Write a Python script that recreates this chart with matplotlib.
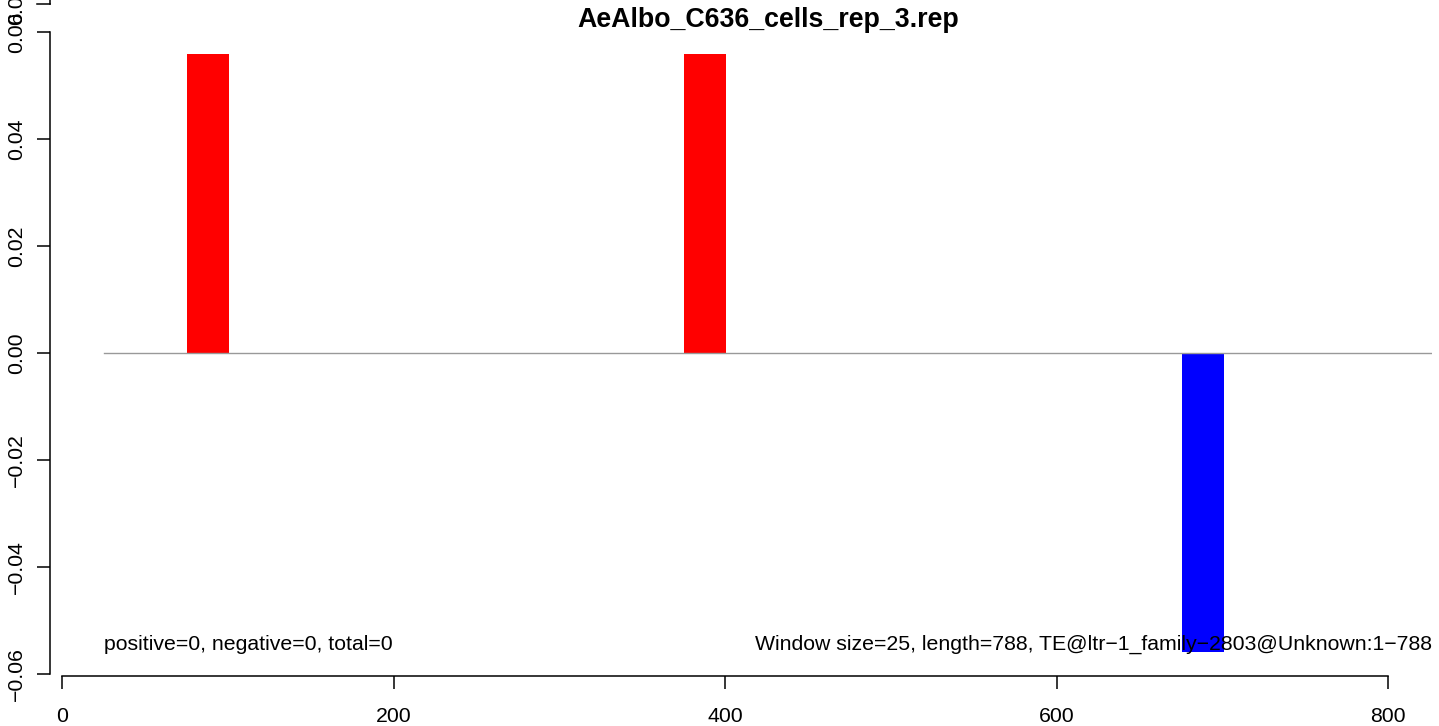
import matplotlib
matplotlib.use("Agg")
import matplotlib.pyplot as plt

# Data
bar_starts = [75.5, 375.5, 676]
bar_width = 25.3
bar_values = [0.0558, 0.0558, -0.0558]
bar_colors = ["#FF0000", "#FF0000", "#0000FF"]
x_ticks = [0, 200, 400, 600, 800]
y_ticks = [-0.06, -0.04, -0.02, 0.00, 0.02, 0.04, 0.06]
y_tick_labels = ["\u22120.06", "\u22120.04", "\u22120.02", "0.00", "0.02", "0.04", "0.06"]
title = "AeAlbo_C636_cells_rep_3.rep"
left_note = "positive=0, negative=0, total=0"
right_note = "Window size=25, length=788, TE@ltr\u22121_family\u22122803@Unknown:1\u2212788"
window_start = 25.3

plt.rcParams['font.family'] = ['Liberation Sans', 'DejaVu Sans']

W, H = 1439, 726
fig = plt.figure(figsize=(W / 100, H / 100), dpi=100)
L, R, T, B = 50, 1432, 0, 676
ax = fig.add_axes([L / W, 1 - B / H, (R - L) / W, (B - T) / H])

px_per_x = 1326 / 800.0
px_per_y = 107 / 0.02
x0_px, y0_px = 62, 353
ax.set_xlim((L - x0_px) / px_per_x, (R - x0_px) / px_per_x)
ax.set_ylim((y0_px - B) / px_per_y, (y0_px - T) / px_per_y)

ax.bar(bar_starts, bar_values, width=bar_width, align='edge', color=bar_colors, linewidth=0)
ax.plot([window_start, ax.get_xlim()[1]], [0, 0], color="#999999", lw=1.0, zorder=1)

for s in ["top", "right"]:
    ax.spines[s].set_visible(False)
ax.spines["left"].set_bounds(-0.06, 0.06)
ax.spines["bottom"].set_bounds(0, 800)
for s in ["left", "bottom"]:
    ax.spines[s].set_linewidth(1.1)

FS = 15.3
ax.set_xticks(x_ticks)
ax.set_xticklabels([str(v) for v in x_ticks])
ax.set_yticks(y_ticks)
ax.set_yticklabels(y_tick_labels)
ax.tick_params(axis='both', length=9.4, width=1.1, labelsize=FS)
ax.tick_params(axis='x', pad=13)
ax.tick_params(axis='y', pad=8)
for lab in ax.get_yticklabels():
    lab.set_rotation(90)
    lab.set_va('center')

# extra partial axis fragment at the very top
ytop = (y0_px - 4) / px_per_y
xl = ax.get_xlim()[0]
ax.plot([xl, xl], [ytop, ax.get_ylim()[1]], color='black', lw=1.1, clip_on=False)
ax.plot([xl - 13 / px_per_x, xl], [ytop, ytop], color='black', lw=1.1, clip_on=False)
ax.text(xl - 24 / px_per_x, ytop, "0.08", rotation=90, ha='right', va='center',
        fontsize=FS, clip_on=False)

ax.text(window_start, (y0_px - 644) / px_per_y, left_note, fontsize=FS, ha='left', va='center')
ax.text(ax.get_xlim()[1], (y0_px - 644) / px_per_y, right_note, fontsize=FS, ha='right', va='center')

fig.text((578 + 958) / 2 / W, 1 - 20 / H, title, fontsize=19.3, fontweight='bold',
         ha='center', va='center')

fig.savefig("out.png", dpi=100)
